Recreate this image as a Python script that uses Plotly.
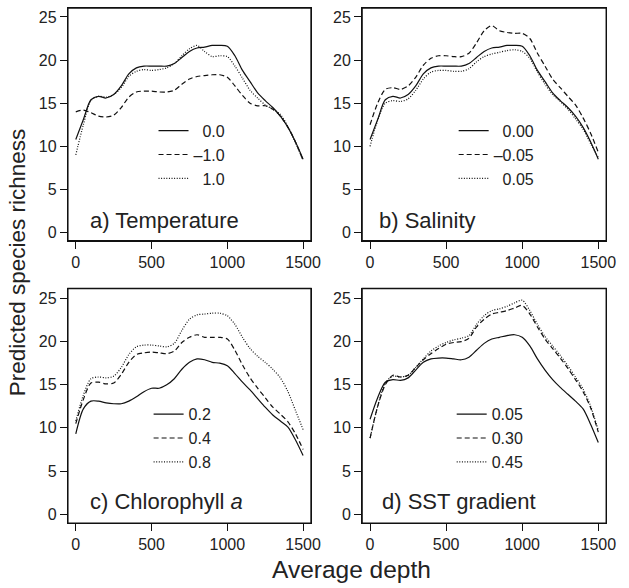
import plotly.graph_objects as go

depth = [0, 50, 100, 150, 200, 250, 300, 350, 400, 450, 500, 550, 600, 650, 700, 750,
         800, 850, 900, 950, 1000, 1050, 1100, 1150, 1200, 1250, 1300, 1350, 1400, 1450, 1500]

# a) Temperature
temp_labels = ["\u20070.0", "\u20131.0", "\u20071.0"]
temp_0 = [10.8, 13.1, 15.4, 15.8, 15.6, 16.0, 17.0, 18.4, 19.1, 19.3, 19.3, 19.3, 19.3, 19.6, 20.3, 21.0,
          21.4, 21.5, 21.7, 21.7, 21.6, 20.5, 18.8, 17.5, 16.2, 15.3, 14.5, 13.5, 12.2, 10.5, 8.5]
temp_m1 = [14.0, 14.2, 13.9, 13.5, 13.4, 13.6, 14.5, 15.7, 16.3, 16.4, 16.4, 16.3, 16.3, 16.5, 17.2, 17.8,
           18.1, 18.2, 18.3, 18.3, 18.0, 17.0, 15.9, 15.0, 14.7, 14.7, 14.3, 13.5, 12.2, 10.5, 8.4]
temp_p1 = [9.0, 12.5, 15.3, 15.8, 15.7, 16.0, 16.8, 18.1, 18.7, 18.9, 18.8, 18.9, 19.1, 19.6, 20.5, 21.3,
           21.7, 21.0, 20.4, 20.5, 20.4, 19.3, 17.9, 16.5, 15.6, 14.8, 14.3, 13.7, 12.3, 10.4, 8.4]

# b) Salinity
sal_labels = ["\u20070.00", "\u20130.05", "\u20070.05"]
sal_0 = [10.8, 13.1, 15.4, 15.8, 15.6, 16.0, 17.0, 18.4, 19.1, 19.3, 19.3, 19.3, 19.3, 19.6, 20.3, 21.0,
         21.4, 21.5, 21.7, 21.7, 21.6, 20.5, 18.8, 17.5, 16.2, 15.3, 14.5, 13.5, 12.2, 10.5, 8.5]
sal_m = [12.5, 15.0, 16.6, 16.8, 16.6, 17.0, 18.0, 19.4, 20.2, 20.5, 20.5, 20.4, 20.4, 20.8, 22.0, 23.4,
         24.0, 23.4, 23.2, 23.1, 23.1, 22.5, 20.8, 19.3, 17.8, 16.8, 15.8, 14.8, 13.3, 11.5, 9.3]
sal_p = [10.0, 13.0, 15.0, 15.3, 15.2, 15.5, 16.5, 17.8, 18.6, 18.8, 18.8, 18.7, 18.7, 19.0, 19.8, 20.4,
         20.7, 20.9, 21.1, 21.2, 21.0, 20.2, 18.6, 17.2, 16.0, 15.2, 14.3, 13.2, 12.0, 10.3, 8.7]

# c) Chlorophyll a
chl_labels = ["0.2", "0.4", "0.8"]
chl_02 = [9.3, 12.2, 13.1, 13.1, 12.9, 12.8, 12.8, 13.1, 13.6, 14.2, 14.6, 14.6, 15.0, 15.7, 16.8, 17.6,
          18.0, 17.9, 17.6, 17.5, 17.2, 16.3, 15.3, 14.4, 13.4, 12.4, 11.5, 10.8, 10.1, 8.6, 6.8]
chl_04 = [10.5, 13.3, 15.2, 15.3, 15.1, 15.2, 16.2, 17.6, 18.5, 18.7, 18.8, 18.7, 18.6, 18.9, 19.9, 20.5,
          20.8, 20.5, 20.5, 20.5, 20.3, 19.0, 17.3, 15.8, 14.6, 13.5, 12.4, 11.6, 10.7, 9.3, 7.5]
chl_08 = [10.8, 13.8, 15.7, 15.9, 15.8, 16.0, 17.0, 18.5, 19.4, 19.6, 19.6, 19.5, 19.4, 19.8, 21.3, 22.6,
          23.1, 23.2, 23.3, 23.3, 23.0, 22.0, 20.5, 19.2, 18.3, 17.6, 16.8, 15.8, 14.2, 12.0, 9.8]

# d) SST gradient
sst_labels = ["0.05", "0.30", "0.45"]
sst_005 = [11.0, 13.5, 15.3, 15.6, 15.5, 15.8, 16.7, 17.6, 18.0, 18.1, 18.1, 18.0, 17.9, 18.2, 19.0, 19.8,
           20.3, 20.5, 20.7, 20.8, 20.5, 19.5, 18.0, 16.7, 15.6, 14.7, 13.9, 13.1, 12.2, 10.4, 8.3]
sst_030 = [8.8, 12.5, 15.0, 16.1, 15.9, 16.1, 17.0, 17.9, 18.6, 19.2, 19.7, 19.9, 20.0, 20.4, 21.7, 22.6,
           23.2, 23.4, 23.6, 23.9, 24.2, 23.2, 21.7, 20.3, 19.2, 18.1, 16.9, 15.6, 14.2, 12.3, 9.5]
sst_045 = [8.8, 12.5, 15.2, 16.0, 15.9, 16.1, 17.0, 18.0, 18.9, 19.5, 19.9, 20.2, 20.4, 20.7, 22.0, 23.0,
           23.6, 23.8, 24.1, 24.5, 24.8, 23.6, 22.0, 20.6, 19.5, 18.4, 17.2, 15.9, 14.5, 12.5, 9.7]

panel_titles = ["a) Temperature", "b) Salinity", "c) Chlorophyll <i>a</i>", "d) SST gradient"]
x_ticks = [0, 500, 1000, 1500]
y_ticks = [0, 5, 10, 15, 20, 25]

panels = [
    (temp_labels, [temp_0, temp_m1, temp_p1]),
    (sal_labels, [sal_0, sal_m, sal_p]),
    (chl_labels, [chl_02, chl_04, chl_08]),
    (sst_labels, [sst_005, sst_030, sst_045]),
]

W, H = 629, 588
FONT = "Liberation Sans, Arial, Helvetica, sans-serif"
dashes = ["solid", "5px,3px", "1px,1.6px"]

# pixel boxes of the four plot areas: (left, right, top, bottom)
boxes = [(69, 316, 8, 241), (368, 616, 8, 241), (69, 316, 289, 524), (368, 616, 289, 524)]
yranges = [[-0.93, 26.04], [-0.93, 26.04], [-1.04, 26.16], [-1.04, 26.16]]
legend_pos = [(156, 114), (461, 114), (151, 398), (459, 398)]
title_pos = [(89, 221), (383, 221), (89, 502), (386, 502)]

fig = go.Figure()
layout = dict(
    width=W, height=H,
    margin=dict(l=0, r=0, t=0, b=0),
    paper_bgcolor="white", plot_bgcolor="white",
    font=dict(family=FONT, color="#222"),
    showlegend=True,
    annotations=[],
    shapes=[],
)

for i, (labels, series) in enumerate(panels):
    n = i + 1
    xa = "x" if n == 1 else f"x{n}"
    ya = "y" if n == 1 else f"y{n}"
    lg = "legend" if n == 1 else f"legend{n}"
    for lab, vals, dsh in zip(labels, series, dashes):
        fig.add_trace(go.Scatter(
            x=depth, y=vals, mode="lines", name=lab,
            line=dict(color="#111", width=1.2, dash=dsh, shape="spline", smoothing=0.8),
            xaxis=xa, yaxis=ya, legend=lg,
        ))
    l, r, t, b = boxes[i]
    axis_common = dict(showgrid=False, zeroline=False, showline=True, mirror=True,
                       linecolor="#111", linewidth=1.3, ticks="outside", ticklen=7,
                       tickwidth=1, tickcolor="#111",
                       tickfont=dict(size=16, family=FONT, color="#222"))
    layout["xaxis" if n == 1 else f"xaxis{n}"] = dict(
        domain=[l / W, r / W], range=[-52, 1552], tickvals=x_ticks,
        anchor=ya, **axis_common)
    layout["yaxis" if n == 1 else f"yaxis{n}"] = dict(
        domain=[(H - b) / H, (H - t) / H], range=yranges[i], tickvals=y_ticks,
        anchor=xa, **axis_common)
    # frame around the plotting area (axis-domain coordinates)
    layout["shapes"].append(dict(
        type="rect", xref=f"{xa} domain", yref=f"{ya} domain", x0=0, x1=1, y0=0, y1=1,
        line=dict(color="#111", width=1.3), fillcolor="rgba(0,0,0,0)", layer="above"))
    lx, ly = legend_pos[i]
    layout[lg] = dict(x=lx / W, y=(H - ly) / H, xanchor="left", yanchor="top",
                      bgcolor="rgba(0,0,0,0)", font=dict(size=16, family=FONT, color="#222"),
                      tracegroupgap=0, itemwidth=30, traceorder="normal")
    tx, ty = title_pos[i]
    layout["annotations"].append(dict(
        text=panel_titles[i], x=tx / W, y=(H - ty) / H, xref="paper", yref="paper",
        xanchor="left", yanchor="middle", showarrow=False,
        font=dict(size=22, family=FONT, color="#222")))

layout["annotations"].append(dict(
    text="Average depth", x=357 / W, y=(H - 570) / H, xref="paper", yref="paper",
    xanchor="center", yanchor="middle", showarrow=False,
    font=dict(size=24.5, family=FONT, color="#222")))
layout["annotations"].append(dict(
    text="Predicted species richness", x=18 / W, y=(H - 263) / H, xref="paper", yref="paper",
    xanchor="center", yanchor="middle", showarrow=False, textangle=-90,
    font=dict(size=22.5, family=FONT, color="#222")))

fig.update_layout(**layout)
fig.write_html("out.html", config={"displayModeBar": False},
               post_script="document.body.style.margin='0px';document.body.style.padding='0px';")
